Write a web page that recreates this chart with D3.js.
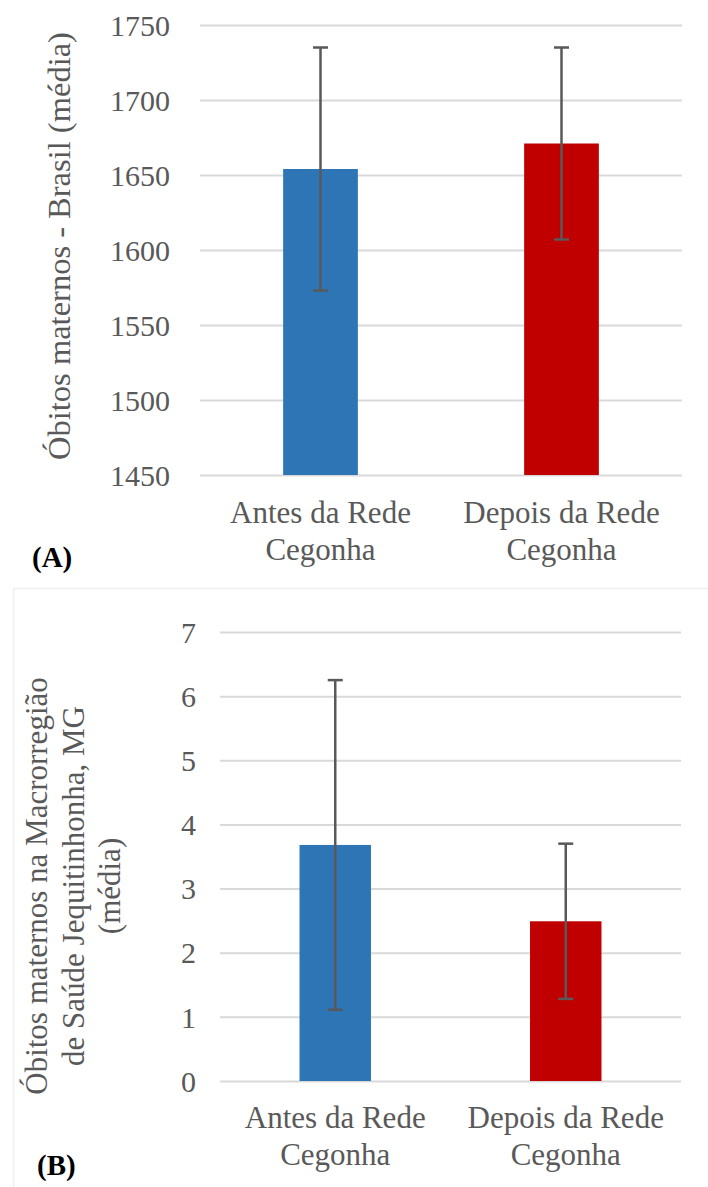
<!DOCTYPE html>
<html>
<head>
<meta charset="utf-8">
<script src="https://cdn.jsdelivr.net/npm/d3@7/dist/d3.min.js"></script>
<style>
  html, body { margin: 0; padding: 0; background: #fff; }
  svg text { font-family: "Liberation Serif", "Times New Roman", "DejaVu Serif", serif !important; }
</style>
</head>
<body>
<svg id="chart" width="708" height="1187"></svg>
<script>
// ---- data ----
var categories = ['Antes da Rede|Cegonha', 'Depois da Rede|Cegonha'];
var colors = ['#2E75B6', '#C00000'];

var brasilMeans = [1654, 1671];
var brasilErrors = [81, 64];
var brasilTicks = [1450, 1500, 1550, 1600, 1650, 1700, 1750];

var jequiMeans = [3.68, 2.49];
var jequiErrors = [2.57, 1.21];
var jequiTicks = [0, 1, 2, 3, 4, 5, 6, 7];

var FONT = '"Liberation Serif", "Times New Roman", "DejaVu Serif", serif';
var TEXT_GREY = '#595959';

var svg = d3.select('#chart');
svg.append('rect').attr('width', 708).attr('height', 1187).attr('fill', '#fff');

// faint frame around panel B (border of the scanned figure)
svg.append('rect')
  .attr('x', 13.5).attr('y', 588.5).attr('width', 700).attr('height', 610)
  .attr('fill', 'none').attr('stroke', '#f0f0f0').attr('stroke-width', 1.5);

function panel(opt) {
  var x = d3.scaleBand().domain(categories)
    .range([opt.left, opt.right]).paddingInner(0.69).paddingOuter(0.345);
  var y = d3.scaleLinear().domain(opt.domain).range([opt.bottom, opt.top]);
  var g = svg.append('g').attr('font-family', FONT);

  // gridlines + tick labels
  var axis = d3.axisLeft(y).tickValues(opt.ticks)
    .tickSize(-(opt.right - opt.left)).tickPadding(opt.tickPad)
    .tickFormat(d3.format('d'));
  var ax = g.append('g').attr('transform', 'translate(' + opt.left + ',0)').call(axis)
    .attr('font-family', FONT).attr('font-size', 30);
  ax.select('.domain').remove();
  ax.selectAll('.tick line').attr('stroke', '#d9d9d9').attr('stroke-width', 2);
  ax.selectAll('.tick text')
    .attr('fill', TEXT_GREY).attr('font-family', FONT).attr('font-size', 30)
    .attr('dy', '0.34em');

  // bars
  g.selectAll('rect.bar').data(opt.means).enter().append('rect')
    .attr('class', 'bar')
    .attr('x', function(d, i) { return x(categories[i]); })
    .attr('width', x.bandwidth())
    .attr('y', function(d) { return y(d); })
    .attr('height', function(d) { return y(opt.domain[0]) - y(d); })
    .attr('fill', function(d, i) { return colors[i]; });

  // error bars
  var cx = function(i) { return x(categories[i]) + x.bandwidth() / 2; };
  var eb = g.selectAll('g.err').data(opt.means).enter().append('g').attr('class', 'err')
    .attr('stroke', TEXT_GREY).attr('stroke-width', 2.5);
  eb.append('line')
    .attr('x1', function(d, i) { return cx(i); })
    .attr('x2', function(d, i) { return cx(i); })
    .attr('y1', function(d, i) { return y(d + opt.errors[i]); })
    .attr('y2', function(d, i) { return y(d - opt.errors[i]); });
  [1, -1].forEach(function(s) {
    eb.append('line')
      .attr('x1', function(d, i) { return cx(i) - 7.5; })
      .attr('x2', function(d, i) { return cx(i) + 7.5; })
      .attr('y1', function(d, i) { return y(d + s * opt.errors[i]); })
      .attr('y2', function(d, i) { return y(d + s * opt.errors[i]); });
  });

  // category labels (two lines)
  categories.forEach(function(c, i) {
    var t = g.append('text')
      .attr('text-anchor', 'middle').attr('fill', TEXT_GREY).attr('font-size', 31)
      .attr('font-family', FONT)
      .attr('x', cx(i)).attr('y', opt.catY);
    c.split('|').forEach(function(line, k) {
      t.append('tspan').attr('x', cx(i)).attr('dy', k === 0 ? 0 : 37).text(line);
    });
  });

  // y-axis title, rotated
  var title = g.append('text')
    .attr('text-anchor', 'middle').attr('fill', TEXT_GREY).attr('font-size', opt.titleSize)
    .attr('font-family', FONT)
    .attr('transform', 'translate(' + opt.titleX + ',' + opt.titleY + ') rotate(-90)');
  opt.title.forEach(function(line, k) {
    title.append('tspan').attr('x', 0).attr('dy', k === 0 ? 0 : 36.5).text(line);
  });

  // panel letter
  g.append('text').attr('x', opt.letterX).attr('y', opt.letterY)
    .attr('font-size', 29).attr('font-weight', 'bold').attr('fill', '#000')
    .attr('font-family', FONT)
    .text(opt.letter);
}

panel({
  left: 200, right: 682, top: 25, bottom: 475,
  domain: [1450, 1750], ticks: brasilTicks, tickPad: 30,
  means: brasilMeans, errors: brasilErrors,
  catY: 523,
  title: ['Óbitos maternos - Brasil (média)'], titleSize: 32.5, titleX: 70, titleY: 246,
  letter: '(A)', letterX: 32, letterY: 567
});

panel({
  left: 220, right: 681, top: 632, bottom: 1081,
  domain: [0, 7], ticks: jequiTicks, tickPad: 24,
  means: jequiMeans, errors: jequiErrors,
  catY: 1128,
  title: ['Óbitos maternos na Macrorregião', 'de Saúde Jequitinhonha, MG', '(média)'],
  titleSize: 31, titleX: 47, titleY: 886,
  letter: '(B)', letterX: 37, letterY: 1175
});
</script>
</body>
</html>
